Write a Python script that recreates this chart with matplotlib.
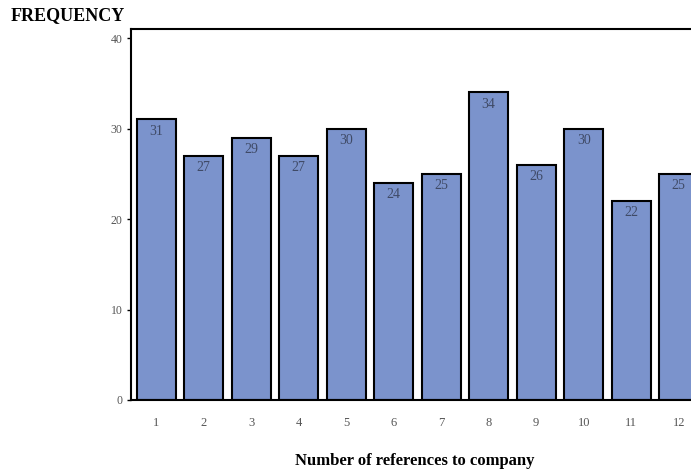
import matplotlib.pyplot as plt

# bar data
references = [1, 2, 3, 4, 5, 6, 7, 8, 9, 10, 11, 12]
frequency = [31, 27, 29, 27, 30, 24, 25, 34, 26, 30, 22, 25]

plt.rcParams['font.family'] = ['Liberation Serif', 'DejaVu Serif']

fig = plt.figure(figsize=(6.91, 4.74), dpi=100)
ax = fig.add_axes([131 / 691, 74 / 474, 570 / 691, 371 / 474])

bars = ax.bar(references, frequency, width=0.82, color='#7b93cc',
              edgecolor='black', linewidth=1.5)

for x, v in zip(references, frequency):
    ax.annotate(str(v), (x, v), xytext=(0, -4), textcoords='offset points',
                ha='center', va='top', fontsize=10, color='#3f4a66')

ax.set_xlim(0.47, 12.47)
ax.set_ylim(0, 41)
ax.set_yticks([0, 10, 20, 30, 40])
ax.set_xticks(references)
ax.tick_params(axis='x', length=0, pad=12, labelsize=9, labelcolor='#555555')
ax.tick_params(axis='y', length=3, width=1, pad=3, labelsize=8.5, labelcolor='#555555')

for s in ax.spines.values():
    s.set_linewidth(1.5)

ax.set_xlabel('Number of references to company', fontsize=12,
              fontweight='bold')
ax.xaxis.set_label_coords((415 - 131) / 570, -(461 - 400) / 371)
ax.xaxis.label.set_va('center')
fig.text(11 / 691, 1 - 16 / 474, 'FREQUENCY', fontsize=13, fontweight='bold',
         ha='left', va='center')

fig.savefig('out.png', dpi=100)
